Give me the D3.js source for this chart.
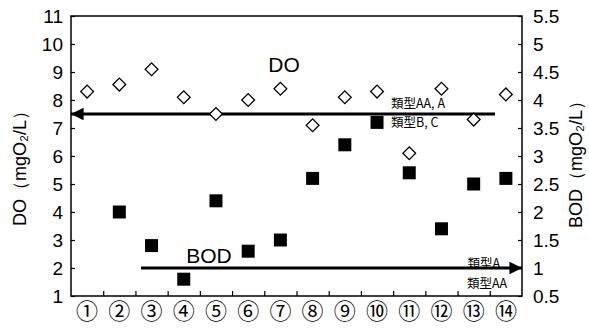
<!DOCTYPE html>
<html>
<head>
<meta charset="utf-8">
<script src="https://cdn.jsdelivr.net/npm/d3@7"></script>
<style>
  body { margin: 0; background: #fff; }
  svg { display: block; font-family: "Liberation Sans", Arial, sans-serif; }
</style>
</head>
<body>
<svg id="chart" width="589" height="333"></svg>
<script>
// dados
const pontos = ['①','②','③','④','⑤','⑥','⑦','⑧','⑨','⑩','⑪','⑫','⑬','⑭'];
const valoresDO = [8.3, 8.55, 9.1, 8.1, 7.5, 8.0, 8.4, 7.1, 8.1, 8.3, 6.1, 8.4, 7.3, 8.2];
const valoresBOD = [null, 2.0, 1.4, 0.8, 2.2, 1.3, 1.5, 2.6, 3.2, 3.6, 2.7, 1.7, 2.5, 2.6];
const ticksDO = [1, 2, 3, 4, 5, 6, 7, 8, 9, 10, 11];
const ticksBOD = [0.5, 1, 1.5, 2, 2.5, 3, 3.5, 4, 4.5, 5, 5.5];
const padraoDO = 7.5;   // 類型AA, A
const padraoBOD = 1.0;  // 類型A

const margem = { esq: 71, dir: 522, topo: 16, base: 296 };
const svg = d3.select('#chart');

const x = d3.scaleBand().domain(pontos).range([margem.esq, margem.dir]);
const xLin = d3.scaleLinear().domain([0, pontos.length]).range([margem.esq, margem.dir]);
const yDO = d3.scaleLinear().domain([1, 11]).range([margem.base, margem.topo]);
const yBOD = d3.scaleLinear().domain([0.5, 5.5]).range([margem.base, margem.topo]);

// moldura
svg.append('rect')
  .attr('x', margem.esq).attr('y', margem.topo)
  .attr('width', margem.dir - margem.esq).attr('height', margem.base - margem.topo)
  .attr('fill', 'none').attr('stroke', '#000').attr('stroke-width', 1.5);

// eixo esquerdo (DO)
const eixoEsq = svg.append('g')
  .attr('transform', `translate(${margem.esq},0)`)
  .call(d3.axisLeft(yDO).tickValues(ticksDO).tickSize(-4).tickPadding(8).tickFormat(d3.format('d')));

// eixo direito (BOD)
const eixoDir = svg.append('g')
  .attr('transform', `translate(${margem.dir},0)`)
  .call(d3.axisRight(yBOD).tickValues(ticksBOD).tickSize(-4).tickPadding(11).tickFormat(d => d));

// eixo de baixo: marcas nas divisões
const eixoBaixo = svg.append('g')
  .attr('transform', `translate(0,${margem.base})`)
  .call(d3.axisBottom(xLin).tickValues(d3.range(1, pontos.length)).tickSize(-5).tickFormat(''));

// rótulos das categorias
const eixoCat = svg.append('g')
  .attr('transform', `translate(0,${margem.base})`)
  .call(d3.axisBottom(x).tickSize(0).tickPadding(7));
eixoCat.selectAll('text')
  .style('font-family', '"Noto Sans CJK JP", sans-serif')
  .style('font-size', '22px');

[eixoEsq, eixoDir, eixoBaixo, eixoCat].forEach(g => {
  g.select('.domain').remove();
  g.selectAll('line').attr('stroke', '#000').attr('stroke-width', 1.2);
  g.selectAll('text').attr('fill', '#000');
});
eixoEsq.selectAll('text').style('font-size', '19px');
eixoDir.selectAll('text').style('font-size', '19px');

// títulos dos eixos
svg.append('text')
  .attr('transform', `translate(26,164) rotate(-90)`)
  .attr('text-anchor', 'middle')
  .style('font-size', '18px')
  .text('DO（mgO₂/L）');

svg.append('text')
  .attr('transform', `translate(582,160) rotate(-90)`)
  .attr('text-anchor', 'middle')
  .style('font-size', '18px')
  .text('BOD（mgO₂/L）');

// setas
const defs = svg.append('defs');
defs.append('marker')
  .attr('id', 'seta')
  .attr('viewBox', '0 0 10 10')
  .attr('refX', 10).attr('refY', 5)
  .attr('markerWidth', 4.2).attr('markerHeight', 4.2)
  .attr('markerUnits', 'strokeWidth')
  .attr('orient', 'auto')
  .append('path').attr('d', 'M0,0 L10,5 L0,10 Z').attr('fill', '#000');

svg.append('line')
  .attr('x1', 495).attr('x2', margem.esq)
  .attr('y1', yDO(padraoDO)).attr('y2', yDO(padraoDO))
  .attr('stroke', '#000').attr('stroke-width', 3)
  .attr('marker-end', 'url(#seta)');

svg.append('line')
  .attr('x1', 141).attr('x2', margem.dir)
  .attr('y1', yBOD(padraoBOD)).attr('y2', yBOD(padraoBOD))
  .attr('stroke', '#000').attr('stroke-width', 3)
  .attr('marker-end', 'url(#seta)');

// pontos DO (losangos)
svg.append('g').selectAll('path')
  .data(valoresDO)
  .enter()
  .append('path')
  .attr('d', d3.symbol().type(d3.symbolSquare).size(82))
  .attr('transform', (d, i) => `translate(${x(pontos[i]) + x.bandwidth() / 2},${yDO(d)}) rotate(45)`)
  .attr('fill', '#fff')
  .attr('stroke', '#000')
  .attr('stroke-width', 1.3);

// pontos BOD (quadrados)
svg.append('g').selectAll('path')
  .data(valoresBOD.map((v, i) => ({ p: pontos[i], v })).filter(d => d.v != null))
  .enter()
  .append('path')
  .attr('d', d3.symbol().type(d3.symbolSquare).size(169))
  .attr('transform', d => `translate(${x(d.p) + x.bandwidth() / 2},${yBOD(d.v)})`)
  .attr('fill', '#000');

// rótulos
svg.append('text').attr('x', 284).attr('y', 72).attr('text-anchor', 'middle')
  .style('font-size', '21px').text('DO');
svg.append('text').attr('x', 209).attr('y', 263).attr('text-anchor', 'middle')
  .style('font-size', '21px').text('BOD');

const rotulosTipo = [
  { t: '類型AA, A', x: 391, y: 108, a: 'start' },
  { t: '類型B, C', x: 391, y: 127, a: 'start' },
  { t: '類型A', x: 500, y: 268, a: 'end' },
  { t: '類型AA', x: 507, y: 288, a: 'end' }
];
svg.append('g').selectAll('text')
  .data(rotulosTipo)
  .enter()
  .append('text')
  .attr('x', d => d.x).attr('y', d => d.y)
  .attr('text-anchor', d => d.a)
  .style('font-family', '"Noto Sans CJK JP", sans-serif')
  .style('font-size', '12.5px')
  .text(d => d.t);
</script>
</body>
</html>
